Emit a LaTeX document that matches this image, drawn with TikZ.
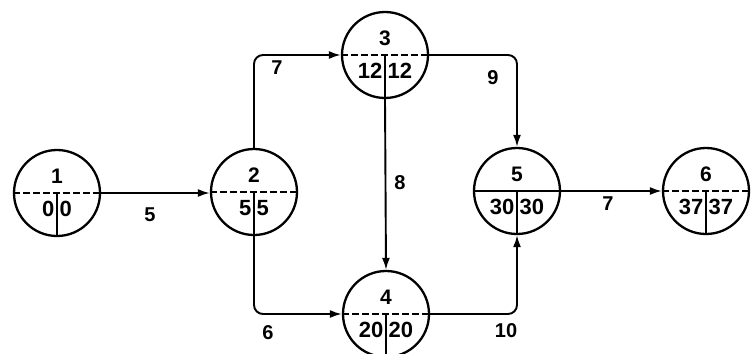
\documentclass[tikz,border=0pt]{standalone}
\usepackage{fontspec}
\setmainfont{Liberation Sans}
\usetikzlibrary{arrows.meta,calc}
\tikzset{
  ev/.style={draw,circle,line width=2.3pt,minimum size=86pt,inner sep=0pt},
  topnum/.style={font=\fontsize{21}{21}\selectfont\bfseries,inner sep=1pt},
  num/.style={font=\fontsize{22}{22}\selectfont\bfseries,inner sep=1pt},
  divd/.style={line width=1.6pt,dash pattern=on 7pt off 3pt},
  divs/.style={line width=1.6pt},
  vbar/.style={line width=2pt},
  edge/.style={line width=1.9pt,rounded corners=9pt,-{Latex[length=12pt,width=8pt]}},
  elab/.style={font=\fontsize{20}{20}\selectfont\bfseries,inner sep=1pt}
}
\newcommand\evnode[6]{%
  \node[ev] (#1) at (#2) {};
  \draw[#6] (#1.west) -- (#1.east);
  \draw[vbar] (#1.center) -- (#1.south);
  \node[topnum] (#1t) at ($(#1.center)+(0,-17)$) {#3};
  \node[num,anchor=east] (#1l) at ($(#1.center)+(-1.5,16)$) {#4};
  \node[num,anchor=west] (#1r) at ($(#1.center)+(1.5,16)$) {#5};
}
\begin{document}
\begin{tikzpicture}[x=1pt,y=-1pt]
\useasboundingbox (0,0) rectangle (751,353);
\evnode{n1}{57,193}{1}{0}{0}{divd}
\evnode{n2}{254,192}{2}{5}{5}{divd}
\evnode{n3}{385,55}{3}{12}{12}{divd}
\evnode{n4}{386,314}{4}{20}{20}{divd}
\evnode{n5}{517,191}{5}{30}{30}{divs}
\evnode{n6}{706,191}{6}{37}{37}{divd}
\draw[edge] (n1.east) -- (n1.east -| n2.west);
\draw[edge] (n2.north) |- (n3.west);
\draw[edge] (n2.south) |- (n4.west);
\draw[edge] (n3.south) -- (n4.north);
\draw[edge] (n3.east) -| (n5.north);
\draw[edge] (n4.east) -| (n5.south);
\draw[edge] (n5.east) -- (n6.west);
\node[elab] (l12) at (150,215) {5};
\node[elab] (l23) at (277,68) {7};
\node[elab] (l24) at (268,333) {6};
\node[elab] (l34) at (400,183) {8};
\node[elab] (l35) at (493,78) {9};
\node[elab] (l45) at (506,331) {10};
\node[elab] (l56) at (608,204) {7};
\end{tikzpicture}
\end{document}
